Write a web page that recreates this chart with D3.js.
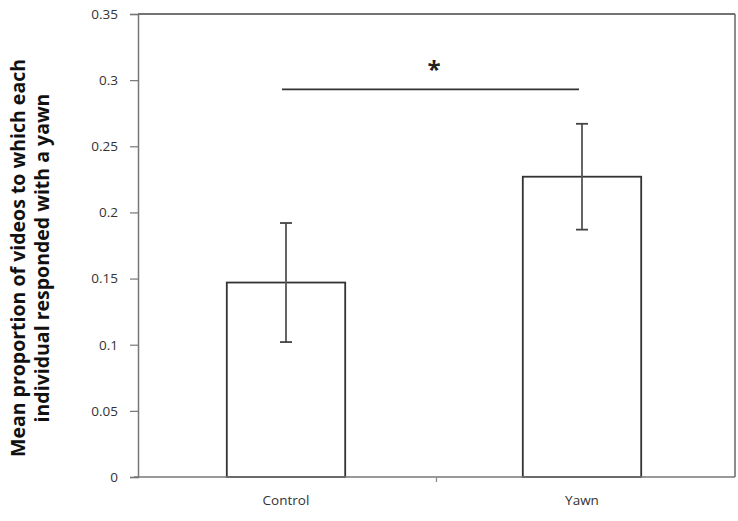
<!DOCTYPE html>
<html lang="en">
<head>
<meta charset="utf-8">
<title>Yawn bar chart</title>
<script src="https://d3js.org/d3.v7.min.js"></script>
<style>
  body { margin: 0; background: #fff; }
  text { font-family: "Open Sans", "DejaVu Sans", sans-serif; }
</style>
</head>
<body>
<script>
// data
var categories = ["Control", "Yawn"];
var means = [0.147, 0.227];
var errors = [0.045, 0.040];
var yTicks = [0, 0.05, 0.1, 0.15, 0.2, 0.25, 0.3, 0.35];
var yTickLabels = ["0", "0.05", "0.1", "0.15", "0.2", "0.25", "0.3", "0.35"];
var sigLevel = 0.293;
var sigLabel = "*";
var yTitle = ["Mean proportion of videos to which each", "individual responded with a yawn"];

var width = 738, height = 521;
var margin = {top: 14, right: 3, bottom: 44, left: 138};
var plotRight = width - margin.right;

var svg = d3.select("body").append("svg")
    .attr("width", width)
    .attr("height", height);

// bands slightly narrower than the frame (bars sit a bit left in the original)
var x = d3.scaleBand()
    .domain(categories)
    .range([margin.left, plotRight - 5])
    .paddingInner(0.6)
    .paddingOuter(0.3);

var y = d3.scaleLinear()
    .domain([0, 0.35])
    .range([height - margin.bottom, margin.top]);

var lineCol = "#555";

// frame: top and right
svg.append("line")
    .attr("x1", margin.left).attr("x2", plotRight)
    .attr("y1", y(0.35)).attr("y2", y(0.35))
    .attr("stroke", "#444").attr("stroke-width", 1.5);
svg.append("line")
    .attr("x1", plotRight).attr("x2", plotRight)
    .attr("y1", y(0.35)).attr("y2", y(0))
    .attr("stroke", "#666").attr("stroke-width", 1.5);

// bars
svg.selectAll("rect.bar")
    .data(categories)
    .enter().append("rect")
    .attr("class", "bar")
    .attr("x", function(d) { return x(d); })
    .attr("width", x.bandwidth())
    .attr("y", function(d, i) { return y(means[i]); })
    .attr("height", function(d, i) { return y(0) - y(means[i]); })
    .attr("fill", "#fff")
    .attr("stroke", "#333")
    .attr("stroke-width", 1.8);

// error bars
var eb = svg.selectAll("g.err")
    .data(categories)
    .enter().append("g")
    .attr("class", "err");
eb.append("line")
    .attr("x1", function(d) { return x(d) + x.bandwidth() / 2; })
    .attr("x2", function(d) { return x(d) + x.bandwidth() / 2; })
    .attr("y1", function(d, i) { return y(means[i] + errors[i]); })
    .attr("y2", function(d, i) { return y(means[i] - errors[i]); })
    .attr("stroke", lineCol).attr("stroke-width", 1.8);
[1, -1].forEach(function(s) {
  eb.append("line")
    .attr("x1", function(d) { return x(d) + x.bandwidth() / 2 - 6; })
    .attr("x2", function(d) { return x(d) + x.bandwidth() / 2 + 6; })
    .attr("y1", function(d, i) { return y(means[i] + s * errors[i]); })
    .attr("y2", function(d, i) { return y(means[i] + s * errors[i]); })
    .attr("stroke", "#444").attr("stroke-width", 1.8);
});

// y axis
var yAxis = d3.axisLeft(y)
    .tickValues(yTicks)
    .tickFormat(function(d, i) { return yTickLabels[i]; })
    .tickSize(8)
    .tickPadding(12);
var gy = svg.append("g")
    .attr("transform", "translate(" + margin.left + ",0)")
    .call(yAxis);
gy.select(".domain").attr("stroke", "#777").attr("stroke-width", 1.5);
gy.selectAll(".tick line").attr("stroke", "#777").attr("stroke-width", 1.2);
gy.selectAll(".tick text").attr("fill", "#333").style("font-size", "13.5px");

// x axis
var gx = svg.append("g")
    .attr("transform", "translate(0," + y(0) + ")");
gx.append("line")
    .attr("x1", margin.left - 4).attr("x2", plotRight)
    .attr("stroke", "#777").attr("stroke-width", 1.5);
var mid = (margin.left + plotRight) / 2;
gx.append("line")
    .attr("x1", mid).attr("x2", mid).attr("y1", 0).attr("y2", 5)
    .attr("stroke", "#888").attr("stroke-width", 1.2);
gx.selectAll("text.cat")
    .data(categories)
    .enter().append("text")
    .attr("class", "cat")
    .attr("x", function(d) { return x(d) + x.bandwidth() / 2; })
    .attr("y", 28)
    .attr("text-anchor", "middle")
    .attr("fill", "#333")
    .style("font-size", "13.5px")
    .text(function(d) { return d; });

// significance bar
var c0 = x(categories[0]) + x.bandwidth() / 2;
var c1 = x(categories[1]) + x.bandwidth() / 2;
svg.append("line")
    .attr("x1", c0 - 4).attr("x2", c1 - 3)
    .attr("y1", y(sigLevel)).attr("y2", y(sigLevel))
    .attr("stroke", "#333").attr("stroke-width", 1.8);
svg.append("text")
    .attr("x", (c0 + c1) / 2)
    .attr("y", y(sigLevel) - 11)
    .attr("text-anchor", "middle")
    .attr("font-weight", "bold")
    .style("font-size", "24px")
    .attr("fill", "#222")
    .text(sigLabel);

// y title
var yt = svg.append("text")
    .attr("transform", "translate(0," + 258 + ") rotate(-90)")
    .attr("text-anchor", "middle")
    .attr("font-weight", "bold")
    .style("font-size", "19.5px")
    .attr("fill", "#111");
yt.selectAll("tspan")
    .data(yTitle)
    .enter().append("tspan")
    .attr("x", 0)
    .attr("y", function(d, i) { return 25 + i * 24; })
    .text(function(d) { return d; });
</script>
</body>
</html>
